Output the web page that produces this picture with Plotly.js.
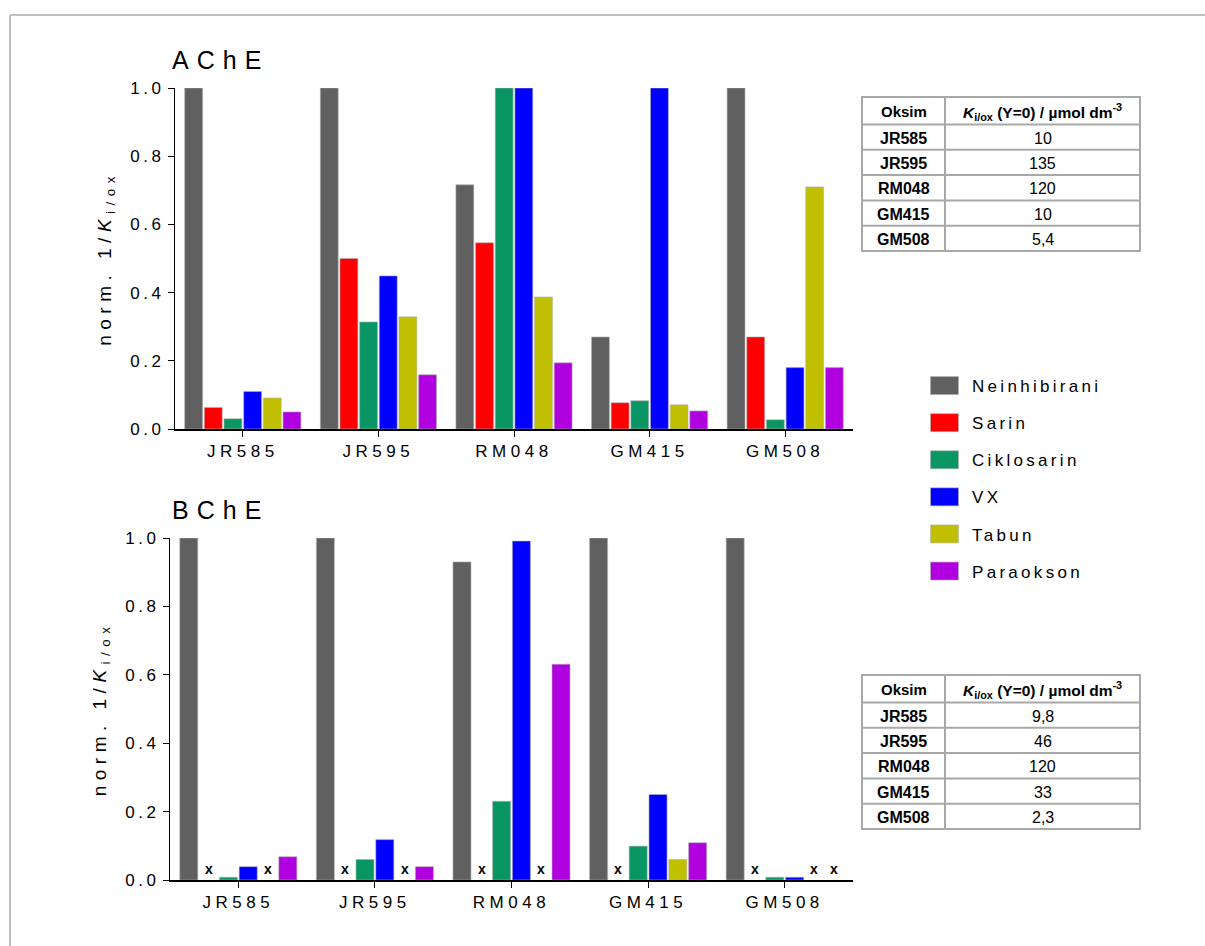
<!DOCTYPE html>
<html>
<head>
<meta charset="utf-8">
<script src="https://cdn.plot.ly/plotly-3.0.1.min.js"></script>
<style>html,body{margin:0;padding:0;background:#fff;}#chart{width:1205px;height:946px;}</style>
</head>
<body>
<div id="chart"></div>
<script>
// ---------- data ----------
const oximes = ['JR585', 'JR595', 'RM048', 'GM415', 'GM508'];
const seriesNames = ['Neinhibirani', 'Sarin', 'Ciklosarin', 'VX', 'Tabun', 'Paraokson'];
const seriesColors = ['#606060', '#ff0000', '#0a9664', '#0000ff', '#c0c000', '#b000e0'];

// AChE normalised 1/K_i/ox
const ache_neinhibirani = [1.0, 1.0, 0.716, 0.27, 1.0];
const ache_sarin        = [0.063, 0.50, 0.546, 0.077, 0.27];
const ache_ciklosarin   = [0.030, 0.314, 1.0, 0.083, 0.027];
const ache_vx           = [0.110, 0.449, 1.0, 1.0, 0.18];
const ache_tabun        = [0.091, 0.329, 0.387, 0.071, 0.71];
const ache_paraokson    = [0.050, 0.159, 0.194, 0.053, 0.18];

// BChE normalised 1/K_i/ox (null = not determined, marked "x")
const bche_neinhibirani = [1.0, 1.0, 0.93, 1.0, 1.0];
const bche_sarin        = [null, null, null, null, null];
const bche_ciklosarin   = [0.008, 0.06, 0.23, 0.099, 0.008];
const bche_vx           = [0.039, 0.118, 0.991, 0.25, 0.008];
const bche_tabun        = [null, null, null, 0.06, null];
const bche_paraokson    = [0.068, 0.039, 0.631, 0.109, null];

const yTicks = [0, 0.2, 0.4, 0.6, 0.8, 1.0];
const yTickText = ['0.0', '0.2', '0.4', '0.6', '0.8', '1.0'];

// tables
const tableHeader = ['<b>Oksim</b>', '<b><i>K</i><sub>i/ox</sub> (Y=0) / µmol dm<sup>-3</sup></b>'];
const ache_Ki = ['10', '135', '120', '10', '5,4'];
const bche_Ki = ['9,8', '46', '120', '33', '2,3'];

// ---------- build ----------
const W = 1205, H = 946;
const px = v => v / W;
const py = v => 1 - v / H;
const font = 'Liberation Sans, Arial, sans-serif';
const BARGAP = 0.13, BARGROUPGAP = 0.09;
const acheSeries = [ache_neinhibirani, ache_sarin, ache_ciklosarin, ache_vx, ache_tabun, ache_paraokson];
const bcheSeries = [bche_neinhibirani, bche_sarin, bche_ciklosarin, bche_vx, bche_tabun, bche_paraokson];

const x1Dom = [175, 853], x2Dom = [170, 853];

const traces = [];
acheSeries.forEach((vals, i) => {
  traces.push({
    type: 'bar', x: oximes, y: vals, name: seriesNames[i],
    xaxis: 'x', yaxis: 'y', legendgroup: 'g' + i,
    marker: {color: seriesColors[i], line: {color: '#b0b0b0', width: 0.6}},
    hoverinfo: 'x+y+name'
  });
});
bcheSeries.forEach((vals, i) => {
  traces.push({
    type: 'bar', x: oximes, y: vals,
    name: seriesNames[i], showlegend: false,
    xaxis: 'x2', yaxis: 'y2', legendgroup: 'g' + i,
    marker: {color: seriesColors[i], line: {color: '#b0b0b0', width: 0.6}},
    hoverinfo: 'x+y+name'
  });
});

const shapes = [
  {type: 'line', xref: 'paper', yref: 'paper', x0: px(10), x1: 1, y0: py(15), y1: py(15),
   line: {color: '#c0c0c0', width: 2}},
  {type: 'line', xref: 'paper', yref: 'paper', x0: px(10), x1: px(10), y0: 0, y1: py(15),
   line: {color: '#c0c0c0', width: 2}}
];
const annotations = [
  {text: 'AChE', xref: 'paper', yref: 'paper', x: px(221), y: py(60),
   xanchor: 'center', yanchor: 'middle', showarrow: false, font: {family: font, size: 25, color: '#000'}},
  {text: 'BChE', xref: 'paper', yref: 'paper', x: px(221), y: py(510),
   xanchor: 'center', yanchor: 'middle', showarrow: false, font: {family: font, size: 25, color: '#000'}}
];

// "x" marks for BChE values that were not determined, placed at the bar slot via axis x2/y2
const catPx = (x2Dom[1] - x2Dom[0]) / oximes.length;
const slotPx = catPx * (1 - BARGAP) / seriesNames.length;
bcheSeries.forEach((vals, i) => {
  vals.forEach((v, j) => {
    if (v === null) {
      annotations.push({
        text: '<b>x</b>', xref: 'x2', yref: 'y2', x: oximes[j], y: 0,
        xshift: (i - (seriesNames.length - 1) / 2) * slotPx, yshift: 1,
        xanchor: 'center', yanchor: 'bottom', showarrow: false,
        font: {family: font, size: 14, color: '#000'}
      });
    }
  });
});

// ---------- tables drawn with shapes + annotations ----------
const tblLine = {color: '#a8a8a8', width: 2};
function addTable(values, top) {
  const x0 = 862, xm = 945, x1 = 1140, hh = 27.5, rh = 25.3;
  const bottom = top + hh + rh * oximes.length;
  shapes.push({type: 'rect', xref: 'paper', yref: 'paper', x0: px(x0), x1: px(x1), y0: py(bottom), y1: py(top), line: tblLine});
  shapes.push({type: 'line', xref: 'paper', yref: 'paper', x0: px(xm), x1: px(xm), y0: py(bottom), y1: py(top), line: tblLine});
  for (let r = 0; r < oximes.length; r++) {
    const yy = top + hh + rh * r;
    shapes.push({type: 'line', xref: 'paper', yref: 'paper', x0: px(x0), x1: px(x1), y0: py(yy), y1: py(yy), line: tblLine});
  }
  annotations.push({text: tableHeader[0], xref: 'paper', yref: 'paper', x: px((x0 + xm) / 2), y: py(top + hh / 2 + 1),
    showarrow: false, xanchor: 'center', yanchor: 'middle', font: {family: font, size: 15, color: '#000'}});
  annotations.push({text: tableHeader[1], xref: 'paper', yref: 'paper', x: px((xm + x1) / 2), y: py(top + hh / 2 + 1),
    showarrow: false, xanchor: 'center', yanchor: 'middle', font: {family: font, size: 15.5, color: '#000'}});
  oximes.forEach((o, r) => {
    const yc = top + hh + rh * r + rh / 2 + 1;
    annotations.push({text: '<b>' + o + '</b>', xref: 'paper', yref: 'paper', x: px((x0 + xm) / 2), y: py(yc),
      showarrow: false, xanchor: 'center', yanchor: 'middle', font: {family: font, size: 16, color: '#000'}});
    annotations.push({text: values[r], xref: 'paper', yref: 'paper', x: px((xm + x1) / 2), y: py(yc),
      showarrow: false, xanchor: 'center', yanchor: 'middle', font: {family: font, size: 16, color: '#000'}});
  });
}
addTable(ache_Ki, 97);
addTable(bche_Ki, 675);

const axisFont = {family: font, size: 17, color: '#000'};
function yaxis(domain, anchor) {
  return {
    domain: domain, anchor: anchor, range: [0, 1.0], fixedrange: true,
    tickvals: yTicks, ticktext: yTickText, ticks: 'outside', ticklen: 6, tickwidth: 1.2,
    tickcolor: '#000', showline: true, linecolor: '#000', linewidth: 1.2,
    showgrid: false, zeroline: false, tickfont: axisFont,
    title: {text: 'norm. 1/<i>K</i><sub>i/ox</sub>', font: {family: font, size: 19, color: '#000'}, standoff: 24}
  };
}
function xaxis(domain, anchor) {
  return {
    domain: domain, anchor: anchor, range: [-0.5, 4.5], fixedrange: true,
    type: 'category', ticks: 'outside', ticklen: 6, tickwidth: 1.2, tickcolor: '#000',
    showline: true, linecolor: '#000', linewidth: 1.5, showgrid: false,
    tickfont: axisFont
  };
}

const layout = {
  width: W, height: H,
  margin: {l: 0, r: 0, t: 0, b: 0},
  paper_bgcolor: '#fff', plot_bgcolor: '#fff',
  font: {family: font, color: '#000'},
  barmode: 'group', bargap: BARGAP, bargroupgap: BARGROUPGAP,
  showlegend: true,
  legend: {
    x: px(932), y: py(368), xanchor: 'left', yanchor: 'top',
    font: {family: font, size: 17, color: '#000'},
    tracegroupgap: 12, traceorder: 'grouped', bgcolor: 'rgba(0,0,0,0)'
  },
  xaxis: xaxis([px(x1Dom[0]), px(x1Dom[1])], 'y'),
  yaxis: yaxis([py(429), py(88)], 'x'),
  xaxis2: xaxis([px(x2Dom[0]), px(x2Dom[1])], 'y2'),
  yaxis2: yaxis([py(880), py(538)], 'x2'),
  annotations: annotations,
  shapes: shapes
};

Plotly.newPlot('chart', traces, layout, {displayModeBar: false}).then(gd => {
  // letter-spaced typography as in the reference
  const set = (sel, ls) => gd.querySelectorAll(sel).forEach(el => { el.style.letterSpacing = ls; });
  set('.xtick text, .x2tick text', '4.5px');
  set('.ytick text, .y2tick text', '3.5px');
  set('.g-ytitle text, .g-y2title text', '5.5px');
  set('.legendtext', '3.3px');
  gd.querySelectorAll('.annotation-text').forEach(el => {
    const t = el.textContent;
    if (t === 'AChE' || t === 'BChE') el.style.letterSpacing = '8px';
  });
  // legend: larger swatches like the reference and no clipping of the spaced text
  gd.querySelectorAll('.legend [clip-path]').forEach(el => el.removeAttribute('clip-path'));
  const lg = gd.querySelector('.legend');
  if (lg) lg.removeAttribute('clip-path');
  gd.querySelectorAll('.legend .legendpoints path').forEach(p => p.setAttribute('d', 'M6.5,9H-21.5V-9H6.5Z'));
});
</script>
</body>
</html>
